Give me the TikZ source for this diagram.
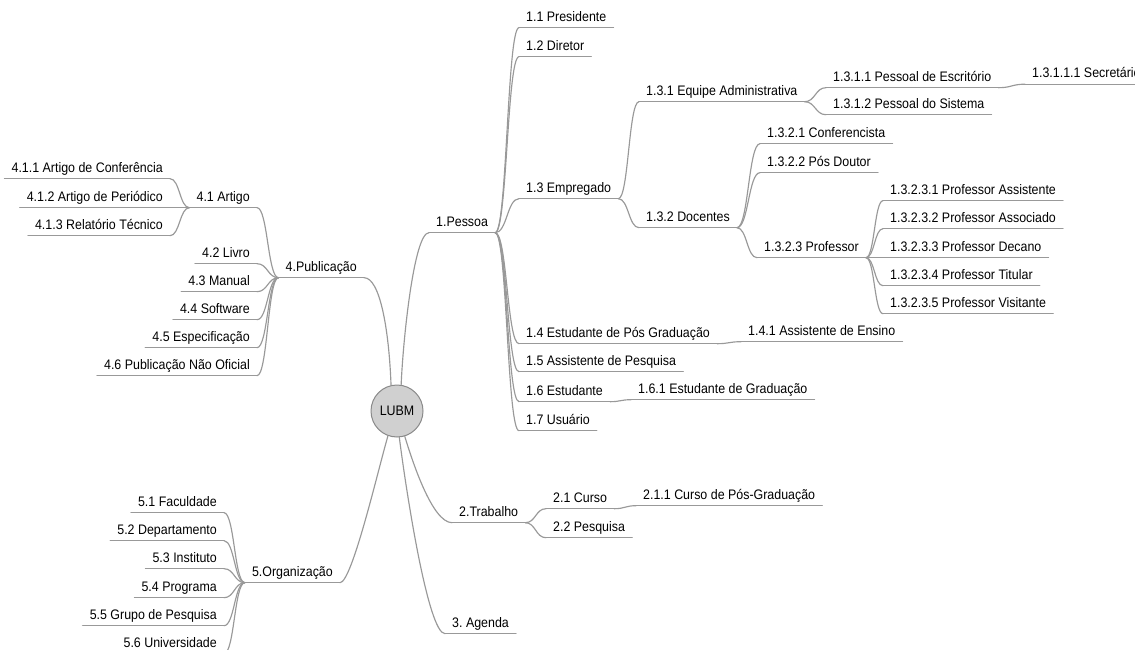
\documentclass[tikz,border=0pt]{standalone}
\usepackage{fontspec}
\setmainfont{Liberation Sans}[FakeStretch=0.9]
\usetikzlibrary{calc}
\frenchspacing

\definecolor{linegray}{HTML}{999999}
\definecolor{txtcol}{HTML}{000000}
\definecolor{rootfill}{HTML}{D0D0D0}
\definecolor{rootdraw}{HTML}{8A8A8A}

\tikzset{
  topic/.style={font=\fontsize{13.8}{15}\selectfont, text=txtcol,
    inner xsep=7pt, inner ysep=0pt, text height=10pt, text depth=6pt},
  rt/.style={topic, anchor=base west, xshift=-7pt},
  lt/.style={topic, anchor=base east, xshift=7pt},
  conn/.style={draw=linegray, line width=1.15pt, line cap=round},
}

% S-shaped link: parent on the left, child on the right
\newcommand\linkR[2]{%
  \path (#1.south east) coordinate (lkp) (#2.south west) coordinate (lkq)
        ($(lkp)!0.5!(lkq)$) coordinate (lkm);
  \draw[conn] (lkp) .. controls (lkm |- lkp) and (lkm |- lkq) .. (lkq);}
% S-shaped link: parent on the right, child on the left
\newcommand\linkL[2]{%
  \path (#1.south west) coordinate (lkp) (#2.south east) coordinate (lkq)
        ($(lkp)!0.5!(lkq)$) coordinate (lkm);
  \draw[conn] (lkp) .. controls (lkm |- lkp) and (lkm |- lkq) .. (lkq);}

\begin{document}
\begin{tikzpicture}[x=1pt, y=-1pt]
\useasboundingbox (0,0) rectangle (1135,650);
\fill[white] (0,0) rectangle (1135,650);
\clip (0,0) rectangle (1135,650);

% central topic
\node[circle, minimum size=52pt, inner sep=0pt, fill=rootfill, draw=rootdraw,
      line width=1pt, font=\fontsize{13.8}{15}\selectfont, text=txtcol]
      (root) at (397,411) {LUBM};

% ---- 1. Pessoa ----
\node[rt] (n1)    at (436,226.5) {1.Pessoa};
\node[rt] (n11)   at (526,21.5)  {1.1 Presidente};
\node[rt] (n12)   at (526,50.5)  {1.2 Diretor};
\node[rt] (n13)   at (526,192.5) {1.3 Empregado};
\node[rt] (n14)   at (526,337.5) {1.4 Estudante de Pós Graduação};
\node[rt] (n15)   at (526,365.5) {1.5 Assistente de Pesquisa};
\node[rt] (n16)   at (526,395.5) {1.6 Estudante};
\node[rt] (n17)   at (526,424.5) {1.7 Usuário};
\node[rt] (n131)  at (646,95.5)  {1.3.1 Equipe Administrativa};
\node[rt] (n132)  at (646,221.5) {1.3.2 Docentes};
\node[rt] (n1311) at (833,81.5)  {1.3.1.1 Pessoal de Escritório};
\node[rt] (n1312) at (833,108.5) {1.3.1.2 Pessoal do Sistema};
\node[rt] (n13111) at (1032,78)  {1.3.1.1.1 Secretário};
\node[rt] (n1321) at (767,137.5) {1.3.2.1 Conferencista};
\node[rt] (n1322) at (767,166.5) {1.3.2.2 Pós Doutor};
\node[rt] (n1323) at (764,251.5) {1.3.2.3 Professor};
\node[rt] (n13231) at (890,194.5) {1.3.2.3.1 Professor Assistente};
\node[rt] (n13232) at (890,222.5) {1.3.2.3.2 Professor Associado};
\node[rt] (n13233) at (890,251.5) {1.3.2.3.3 Professor Decano};
\node[rt] (n13234) at (890,279.5) {1.3.2.3.4 Professor Titular};
\node[rt] (n13235) at (890,307.5) {1.3.2.3.5 Professor Visitante};
\node[rt] (n141)  at (748,335.5) {1.4.1 Assistente de Ensino};
\node[rt] (n161)  at (638,393.5) {1.6.1 Estudante de Graduação};

% ---- 2. Trabalho ----
\node[rt] (n2)    at (459,516.5) {2.Trabalho};
\node[rt] (n21)   at (553,502.5) {2.1 Curso};
\node[rt] (n22)   at (553,531.5) {2.2 Pesquisa};
\node[rt] (n211)  at (643,499.5) {2.1.1 Curso de Pós-Graduação};

% ---- 3. Agenda ----
\node[rt] (n3)    at (452,627.5) {3. Agenda};

% ---- 4. Publicação ----
\node[lt] (n4)    at (357,271.5) {4.Publicação};
\node[lt] (n41)   at (250,201.5) {4.1 Artigo};
\node[lt] (n42)   at (250,257.5) {4.2 Livro};
\node[lt] (n43)   at (250,285.5) {4.3 Manual};
\node[lt] (n44)   at (250,313.5) {4.4 Software};
\node[lt] (n45)   at (250,341.5) {4.5 Especificação};
\node[lt] (n46)   at (250,369.5) {4.6 Publicação Não Oficial};
\node[lt] (n411)  at (163,172.5) {4.1.1 Artigo de Conferência};
\node[lt] (n412)  at (163,201.5) {4.1.2 Artigo de Periódico};
\node[lt] (n413)  at (163,229.5) {4.1.3 Relatório Técnico};

% ---- 5. Organização ----
\node[lt] (n5)    at (333,576.5) {5.Organização};
\node[lt] (n51)   at (217,506.5) {5.1 Faculdade};
\node[lt] (n52)   at (217,534.5) {5.2 Departamento};
\node[lt] (n53)   at (217,562.5) {5.3 Instituto};
\node[lt] (n54)   at (217,591.5) {5.4 Programa};
\node[lt] (n55)   at (217,619.5) {5.5 Grupo de Pesquisa};
\node[lt] (n56)   at (217,647.5) {5.6 Universidade};

% underlines below every topic
\foreach \n in {n1,n11,n12,n13,n14,n15,n16,n17,n131,n132,n1311,n1312,n13111,
  n1321,n1322,n1323,n13231,n13232,n13233,n13234,n13235,n141,n161,
  n2,n21,n22,n211,n3,n4,n41,n42,n43,n44,n45,n46,n411,n412,n413,
  n5,n51,n52,n53,n54,n55,n56}
  \draw[conn] (\n.south west) -- (\n.south east);

% main branches from the central topic
\draw[conn] (root.81)  .. controls (403,340) and (414,232.5) .. (n1.south west);
\draw[conn] (root.103) .. controls (389,330) and (380,277.5) .. (n4.south east);
\draw[conn] (root.-73) .. controls (412,460) and (432,522.5) .. (n2.south west);
\draw[conn] (root.-85) .. controls (406,490) and (428,633.5) .. (n3.south west);
\draw[conn] (root.-110) .. controls (378,470) and (352,582.5) .. (n5.south east);

% sub-branches
\foreach \c in {n11,n12,n13,n14,n15,n16,n17} {\linkR{n1}{\c}}
\foreach \c in {n131,n132} {\linkR{n13}{\c}}
\foreach \c in {n1311,n1312} {\linkR{n131}{\c}}
\linkR{n1311}{n13111}
\foreach \c in {n1321,n1322,n1323} {\linkR{n132}{\c}}
\foreach \c in {n13231,n13232,n13233,n13234,n13235} {\linkR{n1323}{\c}}
\linkR{n14}{n141}
\linkR{n16}{n161}
\foreach \c in {n21,n22} {\linkR{n2}{\c}}
\linkR{n21}{n211}
\foreach \c in {n41,n42,n43,n44,n45,n46} {\linkL{n4}{\c}}
\foreach \c in {n411,n412,n413} {\linkL{n41}{\c}}
\foreach \c in {n51,n52,n53,n54,n55,n56} {\linkL{n5}{\c}}
\end{tikzpicture}
\end{document}
